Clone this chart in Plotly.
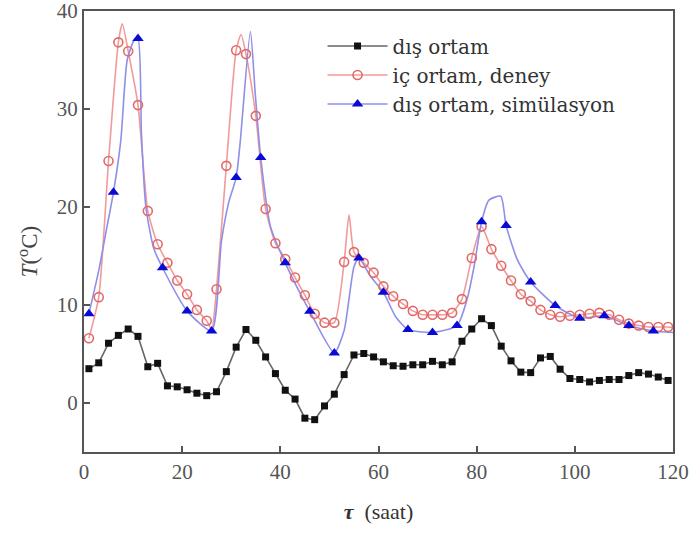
import plotly.graph_objects as go

# ---------------- data ----------------
hours_odd = list(range(1, 120, 2))          # sampling hours of the measurements
outdoor = [3.5, 4.1, 6.1, 6.9, 7.55, 6.8, 3.7, 4.05, 1.75, 1.65,
           1.35, 1.0, 0.75, 1.15, 3.2, 5.7, 7.5, 6.4, 4.7, 3.0,
           1.3, 0.4, -1.55, -1.7, -0.3, 0.9, 2.9, 4.9, 5.05, 4.7,
           4.2, 3.8, 3.75, 3.9, 3.9, 4.25, 3.9, 4.2, 6.3, 7.55,
           8.6, 7.9, 5.8, 4.3, 3.15, 3.1, 4.6, 4.75, 3.45, 2.5,
           2.4, 2.15, 2.3, 2.4, 2.4, 2.8, 3.1, 2.95, 2.65, 2.3]

indoor_exp = [6.6, 10.8, 24.7, 36.8, 35.9, 30.4, 19.6, 16.2, 14.3, 12.5,
              11.1, 9.5, 8.4, 11.6, 24.2, 36.0, 35.6, 29.3, 19.8, 16.3,
              14.7, 12.8, 11.0, 9.1, 8.2, 8.2, 14.4, 15.4, 14.3, 13.3,
              11.9, 10.9, 10.1, 9.4, 9.0, 9.0, 9.0, 9.2, 10.6, 14.8,
              18.0, 15.7, 14.0, 12.5, 11.1, 10.4, 9.5, 9.0, 8.8, 8.9,
              9.0, 9.1, 9.2, 9.0, 8.5, 8.1, 7.9, 7.75, 7.75, 7.75]
# extra points of the continuous experimental curve (between markers)
indoor_line_x = [7.8, 26, 32, 54, 120]
indoor_line_y = [38.7, 7.5, 37.6, 19.2, 7.7]

sim_hours = list(range(1, 120, 5))
sim = [9.1, 21.5, 37.2, 13.8, 9.4, 7.35, 23.0, 25.05, 14.3, 9.35,
       5.1, 14.8, 11.3, 7.5, 7.2, 7.9, 18.5, 18.1, 12.35, 9.95,
       8.65, 8.9, 7.9, 7.35]
# extra points of the continuous simulation curve (between markers)
sim_line_x = [3, 4.5, 7.5, 8.8, 10.2, 11.7, 12.6, 14.2, 28, 29.5, 31.8, 33.9,
              34.9, 38, 53, 55, 58.4, 63.5, 78, 79.5, 82.5, 84.9, 88.3, 120]
sim_line_y = [13.5, 17.5, 26.8, 35.0, 37.0, 27.5, 20.0, 15.8, 16.5, 20.5, 26.5, 37.9,
              31.5, 18.0, 7.4, 13.9, 12.9, 8.8, 10.5, 14.0, 20.7, 21.1, 14.6, 7.2]

x_ticks = [0, 20, 40, 60, 80, 100, 120]
y_ticks = [0, 10, 20, 30, 40]

names = ["dış ortam", "iç ortam, deney", "dış ortam, simülasyon"]
x_title = "<b><i>τ</i></b>  (saat)"
y_title = "<i>T</i>(<sup>o</sup>C)"

# ---------------- styles ----------------
c_black_line, c_black_mk = "#666666", "#111111"
c_red_line, c_red_mk = "#f29a9a", "#e06a6a"
c_blue_line, c_blue_mk = "#8f8fe8", "#0a0ad8"


def merged(xa, ya, xb, yb):
    pts = sorted(zip(list(xa) + list(xb), list(ya) + list(yb)))
    return [p[0] for p in pts], [p[1] for p in pts]


red_lx, red_ly = merged(hours_odd, indoor_exp, indoor_line_x, indoor_line_y)
blue_lx, blue_ly = merged(sim_hours, sim, sim_line_x, sim_line_y)

fig = go.Figure()

# lines
fig.add_trace(go.Scatter(x=hours_odd, y=outdoor, mode="lines",
                         line=dict(color=c_black_line, width=1.6),
                         showlegend=False, hoverinfo="skip"))
fig.add_trace(go.Scatter(x=red_lx, y=red_ly, mode="lines",
                         line=dict(color=c_red_line, width=1.6, shape="spline", smoothing=0.6),
                         showlegend=False, hoverinfo="skip"))
fig.add_trace(go.Scatter(x=blue_lx, y=blue_ly, mode="lines",
                         line=dict(color=c_blue_line, width=1.6, shape="spline", smoothing=0.6),
                         showlegend=False, hoverinfo="skip"))

# markers
fig.add_trace(go.Scatter(x=hours_odd, y=outdoor, mode="markers",
                         marker=dict(symbol="square", size=7, color=c_black_mk),
                         showlegend=False))
fig.add_trace(go.Scatter(x=hours_odd, y=indoor_exp, mode="markers",
                         marker=dict(symbol="circle-open", size=9, color=c_red_mk,
                                     line=dict(width=1.6, color=c_red_mk)),
                         showlegend=False))
fig.add_trace(go.Scatter(x=sim_hours, y=sim, mode="markers",
                         marker=dict(symbol="triangle-up", size=10, color=c_blue_mk),
                         showlegend=False))

# legend-only entries
fig.add_trace(go.Scatter(x=[None], y=[None], mode="lines+markers", name=names[0],
                         line=dict(color=c_black_line, width=1.6),
                         marker=dict(symbol="square", size=7, color=c_black_mk)))
fig.add_trace(go.Scatter(x=[None], y=[None], mode="lines+markers", name=names[1],
                         line=dict(color=c_red_line, width=1.6),
                         marker=dict(symbol="circle-open", size=9, color=c_red_mk,
                                     line=dict(width=1.6, color=c_red_mk))))
fig.add_trace(go.Scatter(x=[None], y=[None], mode="lines+markers", name=names[2],
                         line=dict(color=c_blue_line, width=1.6),
                         marker=dict(symbol="triangle-up", size=10, color=c_blue_mk)))

axis_common = dict(showgrid=False, zeroline=False, showline=True, linecolor="#555555",
                   linewidth=2, mirror=True, ticks="inside", ticklen=6, tickwidth=1.5,
                   tickcolor="#555555", automargin=False, ticklabeloverflow="allow",
                   tickfont=dict(family="Liberation Serif", size=21, color="#555555"))

fig.update_layout(
    width=693, height=533,
    margin=dict(l=84, r=20, t=11, b=81),
    paper_bgcolor="white", plot_bgcolor="white",
    xaxis=dict(range=[0, 120], tickvals=x_ticks, **axis_common,
               title=dict(text=x_title, standoff=20,
                          font=dict(family="Liberation Serif", size=22, color="#333333"))),
    yaxis=dict(range=[-5, 40], tickvals=y_ticks, **axis_common),
    legend=dict(x=0.405, y=0.965, xanchor="left", yanchor="top",
                bgcolor="rgba(0,0,0,0)", itemwidth=60, tracegroupgap=0,
                font=dict(family="DejaVu Serif", size=20, color="#333333")),
    showlegend=True,
    annotations=[dict(text=y_title, xref="paper", yref="paper", x=-0.095, y=0.455,
                      textangle=-90, showarrow=False, xanchor="center", yanchor="middle",
                      font=dict(family="Liberation Serif", size=23, color="#444444"))],
)

fig.write_html("out.html", post_script="document.body.style.margin='0';",
               config={"displayModeBar": False})
